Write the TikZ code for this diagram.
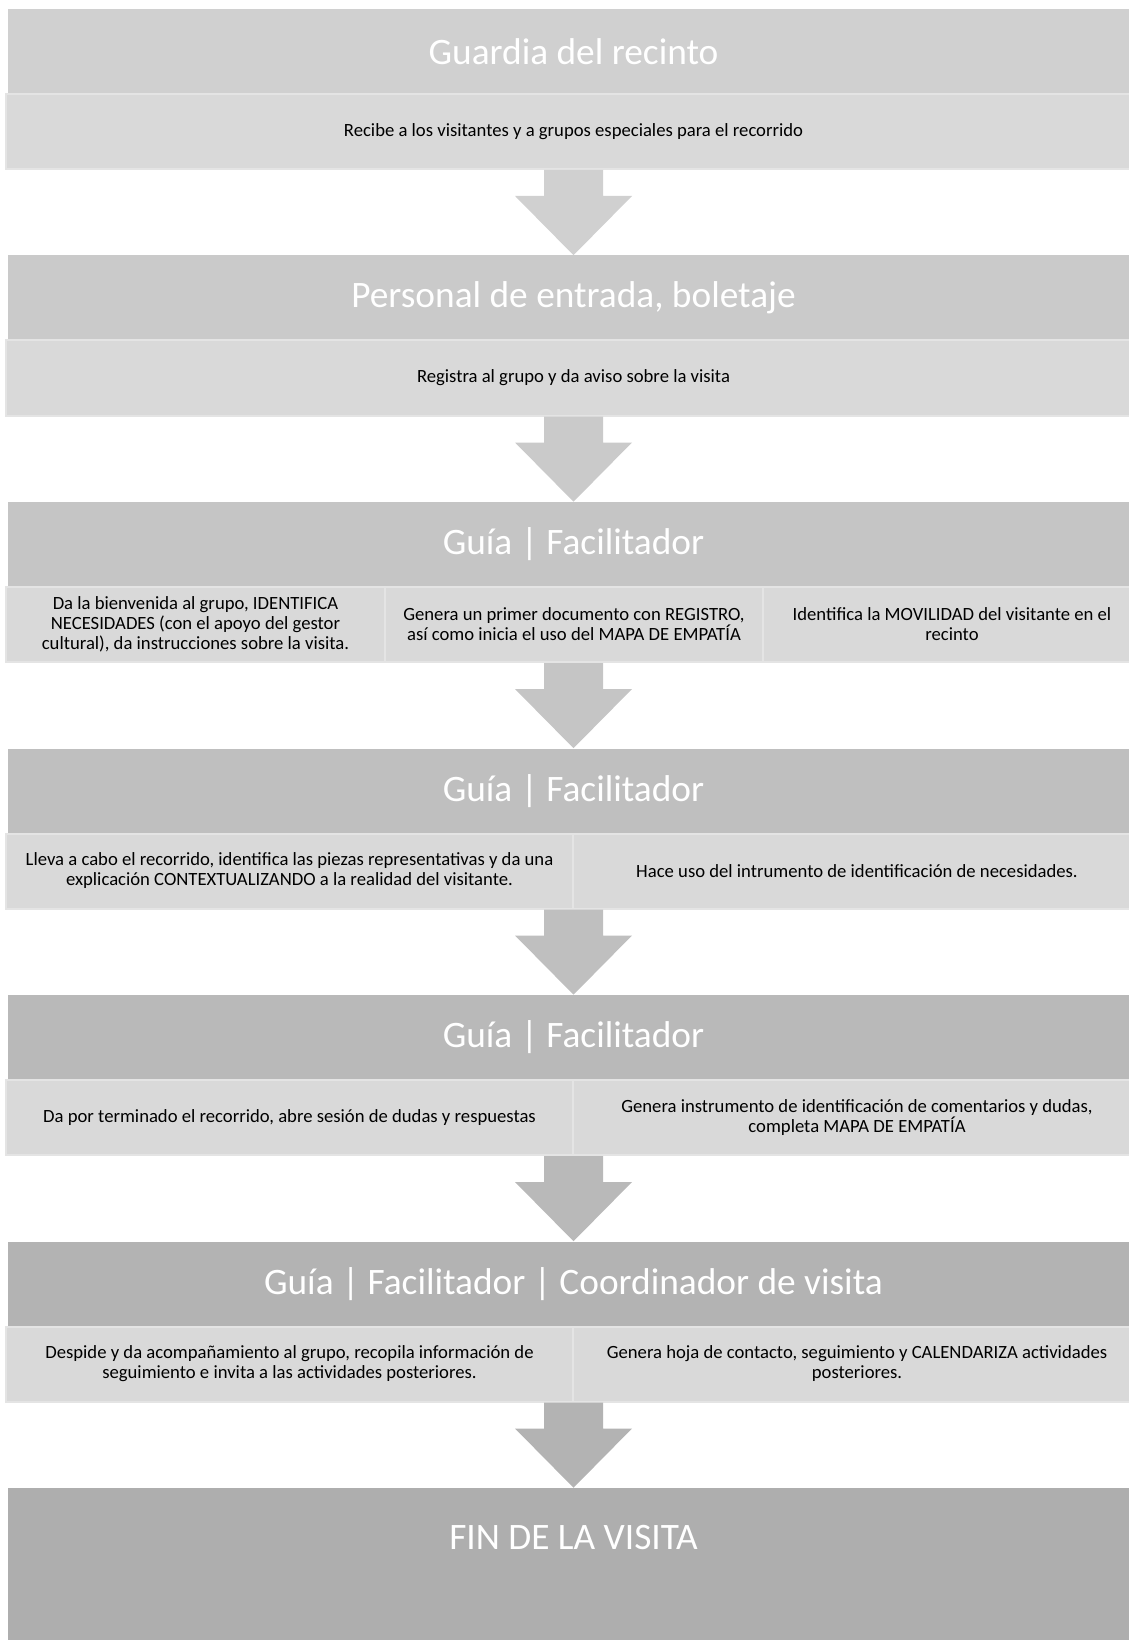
\documentclass[tikz,border=0pt]{standalone}
\usepackage{fontspec}
\setmainfont{Carlito}
\usetikzlibrary{calc}

\definecolor{head1}{HTML}{D0D0D0}
\definecolor{head2}{HTML}{CACACA}
\definecolor{head3}{HTML}{C5C5C5}
\definecolor{head4}{HTML}{BFBFBF}
\definecolor{head5}{HTML}{B9B9B9}
\definecolor{head6}{HTML}{B3B3B3}
\definecolor{headend}{HTML}{AEAEAE}
\definecolor{cellgray}{HTML}{D9D9D9}
\definecolor{celledge}{HTML}{E4E4E4}

% block arrow from the bottom of one row to the top of the next
\newcommand{\flowarrow}[3]{%
  \fill[#3] ($(#1.south -| axis)+(-29.5,0)$) -- ++(59,0) -- ++(0,26) -- ++(29,0)
    -- (#2.north -| axis) -- ($(#1.south -| axis)+(-58.5,26)$) -- ++(29,0) -- cycle;}

\begin{document}
\begin{tikzpicture}[x=0.75pt,y=-0.75pt,
  head/.style={fill=#1, text=white, minimum width=1131*0.75pt, minimum height=85*0.75pt,
    inner sep=0pt, font=\fontsize{28}{34}\selectfont},
  cell/.style={fill=cellgray, draw=celledge, line width=1.5pt, minimum width=#1*0.75pt,
    minimum height=75*0.75pt, inner sep=0pt, align=center, font=\fontsize{14}{15}\selectfont}]
  \useasboundingbox (0,0) rectangle (1128,1640);
  \coordinate (axis) at (573.5,0);

  \node[head=head1] (h1) at (573.5,51.5) {Guardia del recinto};
  \node[cell=1135] (b1) at (573.5,131.5) {Recibe a los visitantes y a grupos especiales para el recorrido};

  \node[head=head2] (h2) at (573.5,298) {Personal de entrada, boletaje};
  \node[cell=1135] (b2) at (573.5,378) {Registra al grupo y da aviso sobre la visita};

  \node[head=head3] (h3) at (573.5,544.5) {Guía | Facilitador};
  \node[cell=379] (b3a) at (195.5,624.5) {Da la bienvenida al grupo, IDENTIFICA\\NECESIDADES (con el apoyo del gestor\\cultural), da instrucciones sobre la visita.};
  \node[cell=378] (b3b) at (574,624.5) {Genera un primer documento con REGISTRO,\\así como inicia el uso del MAPA DE EMPATÍA};
  \node[cell=378] (b3c) at (952,624.5) {Identifica la MOVILIDAD del visitante en el\\recinto};

  \node[head=head4] (h4) at (573.5,791) {Guía | Facilitador};
  \node[cell=567] (b4a) at (289.5,871) {Lleva a cabo el recorrido, identifica las piezas representativas y da una\\explicación CONTEXTUALIZANDO a la realidad del visitante.};
  \node[cell=568] (b4b) at (857,871) {Hace uso del intrumento de identificación de necesidades.};

  \node[head=head5] (h5) at (573.5,1037.5) {Guía | Facilitador};
  \node[cell=567] (b5a) at (289.5,1117.5) {Da por terminado el recorrido, abre sesión de dudas y respuestas};
  \node[cell=568] (b5b) at (857,1117.5) {Genera instrumento de identificación de comentarios y dudas,\\completa MAPA DE EMPATÍA};

  \node[head=head6] (h6) at (573.5,1284) {Guía | Facilitador | Coordinador de visita};
  \node[cell=567] (b6a) at (289.5,1364) {Despide y da acompañamiento al grupo, recopila información de\\seguimiento e invita a las actividades posteriores.};
  \node[cell=568] (b6b) at (857,1364) {Genera hoja de contacto, seguimiento y CALENDARIZA actividades\\posteriores.};

  \node[head=headend, minimum height=99*0.75pt] (fin) at (573.5,1537.5) {FIN DE LA VISITA};
  \fill[headend] (fin.south west) rectangle (1141,1640);
%
  \flowarrow{b1}{h2}{head1}
  \flowarrow{b2}{h3}{head2}
  \flowarrow{b3a}{h4}{head3}
  \flowarrow{b4a}{h5}{head4}
  \flowarrow{b5a}{h6}{head5}
  \flowarrow{b6a}{fin}{head6}
\end{tikzpicture}
\end{document}
